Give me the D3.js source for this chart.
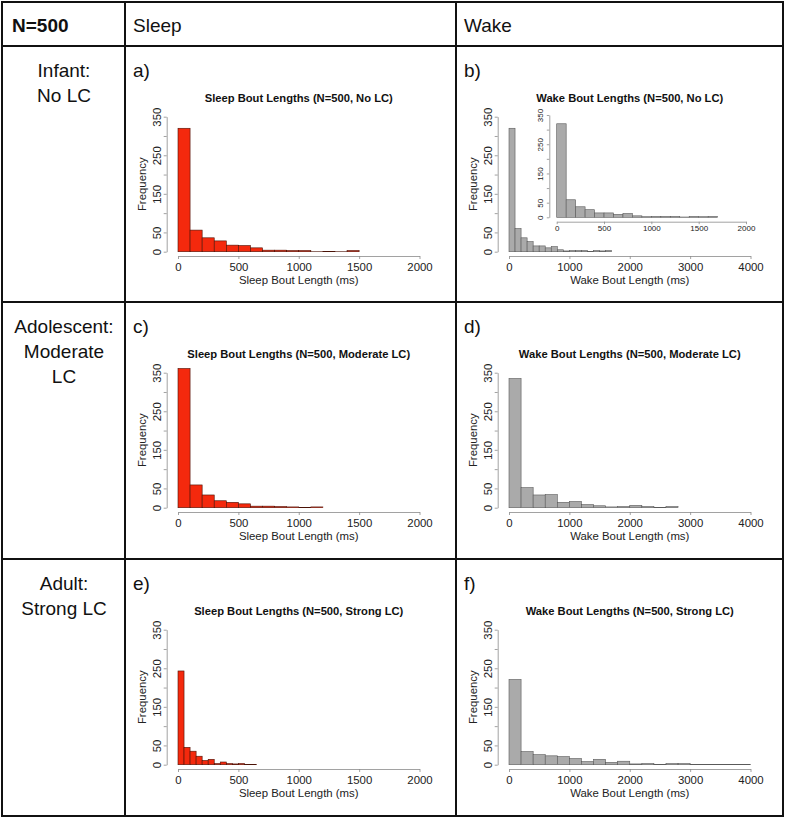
<!DOCTYPE html>
<meta charset="utf-8">
<style>
body { margin: 0; background: #fff; }
svg { display: block; font-family: "Liberation Sans", Arial, Helvetica, sans-serif; }
.grid line { stroke: #111; stroke-width: 2; }
</style>
<svg width="786" height="820"></svg>
<script src="https://cdnjs.cloudflare.com/ajax/libs/d3/7.8.5/d3.min.js"></script>
<script>
// table text
var cornerLabel = "N=500";
var colHeaders = ["Sleep", "Wake"];
var rowLabels = [["Infant:", "No LC"], ["Adolescent:", "Moderate", "LC"], ["Adult:", "Strong LC"]];
var conditions = ["No LC", "Moderate LC", "Strong LC"];
var panelLetters = [["a)", "b)"], ["c)", "d)"], ["e)", "f)"]];

// histogram counts (bin widths in ms below)
var sleepNoLC = [320, 56, 36, 28, 17, 16, 10, 4, 4, 3, 3, 0, 1, 0, 3];
var wakeNoLC = [320, 60, 36, 26, 15, 15, 10, 13, 5, 2, 3, 3, 3, 1, 3, 2, 3];
var sleepModLC = [361, 59, 33, 18, 14, 10, 4, 4, 3, 2, 1, 2];
var wakeModLC = [335, 52, 33, 34, 14, 16, 8, 5, 2, 3, 6, 3, 1, 3];
var sleepStrongLC = [243, 45, 35, 22, 11, 14, 3, 7, 3, 2, 3, 1, 1];
var wakeStrongLC = [221, 34, 26, 23, 21, 16, 8, 14, 6, 9, 2, 3, 1, 3, 3, 1, 1, 1, 1, 1];

var sleepBins = [100, 100, 50];
var wakeBins = [100, 200, 200];

// axis ticks
var freqTicks = [0, 50, 100, 150, 200, 250, 300, 350];
var freqLabels = [0, 50, 150, 250, 350];
var sleepTicks = [0, 500, 1000, 1500, 2000];
var wakeTicks = [0, 1000, 2000, 3000, 4000];
var insetTicks = [0, 500, 1000, 1500, 2000];

var sleepFill = "#f4290d", sleepEdge = "#4a1206";
var wakeFill = "#aaaaaa", wakeEdge = "#5a5a5a";
var axisCol = "#8a8a8a", textCol = "#222";

var svg = d3.select("svg");
var colX = [2, 125, 456, 783];
var rowY = [2, 46, 302, 559, 816];

svg.append("rect").attr("width", 786).attr("height", 820).attr("fill", "#fff");

function histogram(parent, o) {
  var x = d3.scaleLinear().domain([0, o.xMax]).range([o.left, o.right]);
  var y = d3.scaleLinear().domain([0, 350]).range([o.bottom, o.top]);

  parent.append("g").selectAll("rect")
    .data(o.counts)
    .join("rect")
    .attr("x", function(d, i) { return x(i * o.bin); })
    .attr("width", function(d, i) { return x((i + 1) * o.bin) - x(i * o.bin); })
    .attr("y", function(d) { return y(d); })
    // empty bins still show as a flat line, like R does
    .attr("height", function(d) { return Math.max(y(0) - y(d), 0.01); })
    .attr("fill", o.fill)
    .attr("stroke", o.edge)
    .attr("stroke-width", 0.6);

  var xa = parent.append("g")
    .attr("transform", "translate(0," + o.xAxisY + ")")
    .call(d3.axisBottom(x).tickValues(o.xTicks).tickSize(o.tick).tickSizeOuter(0)
      .tickPadding(o.xPad).tickFormat(d3.format("d")));

  var ya = parent.append("g")
    .attr("transform", "translate(" + o.yAxisX + ",0)")
    .call(d3.axisLeft(y).tickValues(freqTicks).tickSize(o.tick).tickSizeOuter(0)
      .tickFormat(function(d) { return freqLabels.indexOf(d) >= 0 ? d : ""; }));

  ya.selectAll(".tick text")
    .attr("transform", "rotate(-90)")
    .attr("x", 0)
    .attr("y", -o.yPad)
    .attr("dy", 0)
    .attr("text-anchor", "middle");

  [xa, ya].forEach(function(a) {
    a.attr("font-family", null).attr("font-size", o.font);
    a.selectAll("path, line").attr("stroke", axisCol).attr("stroke-width", 0.8);
    a.selectAll("text").attr("fill", textCol);
  });
  return x;
}

// panels
conditions.forEach(function(cond, r) {
  var T = rowY[r + 1];
  [0, 1].forEach(function(c) {
    var cx = colX[c + 1];
    var isSleep = c === 0;
    var kind = isSleep ? "Sleep" : "Wake";
    var counts = isSleep ? [sleepNoLC, sleepModLC, sleepStrongLC][r] : [wakeNoLC, wakeModLC, wakeStrongLC][r];
    var g = svg.append("g");

    g.append("text")
      .attr("x", cx + 8).attr("y", T + 31)
      .attr("font-size", 19).attr("fill", "#111")
      .text(panelLetters[r][c]);

    var left = cx + 53, right = cx + 294.5;
    histogram(g, {
      counts: counts, bin: isSleep ? sleepBins[r] : wakeBins[r],
      xMax: isSleep ? 2000 : 4000, xTicks: isSleep ? sleepTicks : wakeTicks,
      left: left, right: right, top: T + 70.7, bottom: T + 205.7,
      xAxisY: T + 210, yAxisX: cx + 41.7,
      tick: 3, xPad: 3.6, yPad: 6, font: 11.4,
      fill: isSleep ? sleepFill : wakeFill, edge: isSleep ? sleepEdge : wakeEdge
    });

    g.append("text")
      .attr("x", (left + right) / 2).attr("y", T + 56)
      .attr("text-anchor", "middle").attr("font-size", 11.2).attr("font-weight", "bold")
      .attr("fill", "#111")
      .text(kind + " Bout Lengths (N=500, " + cond + ")");

    g.append("text")
      .attr("x", (left + right) / 2).attr("y", T + 238)
      .attr("text-anchor", "middle").attr("font-size", 11.4).attr("fill", textCol)
      .text(kind + " Bout Length (ms)");

    g.append("text")
      .attr("transform", "translate(" + (cx + 21) + "," + (T + 138.2) + ") rotate(-90)")
      .attr("text-anchor", "middle").attr("font-size", 11.4).attr("fill", textCol)
      .text("Frequency");

    // zoomed inset on the first wake panel
    if (!isSleep && r === 0) {
      histogram(g, {
        counts: wakeNoLC, bin: 100, xMax: 2000, xTicks: insetTicks,
        left: cx + 100.7, right: cx + 290, top: T + 69, bottom: T + 171.3,
        xAxisY: T + 175.7, yAxisX: cx + 93.3,
        tick: 2.5, xPad: 1.5, yPad: 6.4, font: 8,
        fill: wakeFill, edge: wakeEdge
      });
    }
  });
});

// header and row labels
svg.append("text").attr("x", 12).attr("y", 32)
  .attr("font-size", 19).attr("font-weight", "bold").attr("fill", "#111")
  .text(cornerLabel);

colHeaders.forEach(function(h, i) {
  svg.append("text").attr("x", colX[i + 1] + 8).attr("y", 32)
    .attr("font-size", 19).attr("fill", "#111").text(h);
});

rowLabels.forEach(function(lines, r) {
  var t = svg.append("text").attr("text-anchor", "middle")
    .attr("font-size", 19).attr("fill", "#111");
  lines.forEach(function(s, k) {
    t.append("tspan").attr("x", 64).attr("y", rowY[r + 1] + 30.5 + 25 * k).text(s);
  });
});

// table grid
var grid = svg.append("g").attr("class", "grid");
grid.selectAll("line.v").data(colX).join("line").attr("class", "v")
  .attr("x1", function(d) { return d; }).attr("x2", function(d) { return d; })
  .attr("y1", rowY[0] - 1).attr("y2", rowY[rowY.length - 1] + 1);
grid.selectAll("line.h").data(rowY).join("line").attr("class", "h")
  .attr("y1", function(d) { return d; }).attr("y2", function(d) { return d; })
  .attr("x1", colX[0] - 1).attr("x2", colX[colX.length - 1] + 1);
</script>
